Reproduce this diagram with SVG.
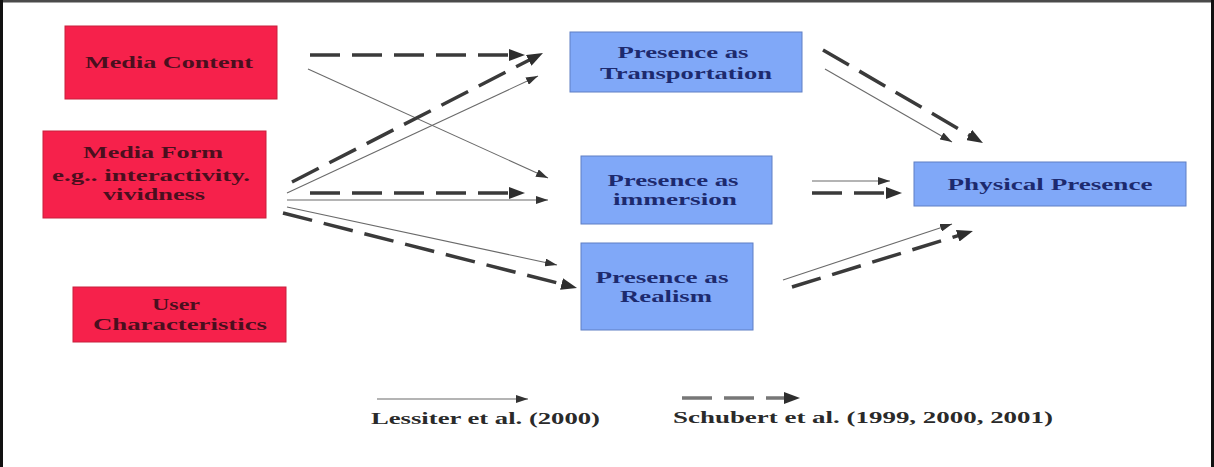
<svg xmlns="http://www.w3.org/2000/svg" width="1214" height="467" viewBox="0 0 1214 467">
<style>
.red{fill:#f6214b;stroke:#c8203c;stroke-width:1}
.blue{fill:#80a8f8;stroke:#5f7fc4;stroke-width:1}
.tr{font-family:"Liberation Serif","Times New Roman",serif;font-weight:bold;font-size:17px;fill:#4a0f1e;text-anchor:middle}
.tb{font-family:"Liberation Serif","Times New Roman",serif;font-weight:bold;font-size:17px;fill:#1d2a6e;text-anchor:middle}
.tl{font-family:"Liberation Serif","Times New Roman",serif;font-weight:bold;font-size:17px;fill:#2a2a2a}
.thin{stroke:#6a6a6a;stroke-width:1.1;fill:none;marker-end:url(#sm)}
.dash{stroke:#3a3a3a;stroke-width:3.5;stroke-dasharray:30 12;fill:none;marker-end:url(#bg)}
.ldash{stroke:#777;stroke-width:3.5;stroke-dasharray:30 12;fill:none;marker-end:url(#bg)}
</style>
<defs>
<marker id="bg" markerUnits="userSpaceOnUse" markerWidth="16" markerHeight="12" refX="4" refY="6" orient="auto">
<path d="M0,0 L16,6 L0,12 z" fill="#2e2e2e"/>
</marker>
<marker id="sm" markerUnits="userSpaceOnUse" markerWidth="12" markerHeight="8" refX="12" refY="4" orient="auto">
<path d="M0,0 L12,4 L0,8 z" fill="#333"/>
</marker>
</defs>
<rect x="0" y="0" width="1214" height="467" fill="#fff"/>
<g id="frame">
<rect x="0" y="0" width="1214" height="2.5" fill="#4a4a4a"/>
<rect x="0" y="0" width="3" height="467" fill="#111"/>
<rect x="1211" y="0" width="3" height="467" fill="#111"/>
</g>
<g id="connectors">
<line class="dash" x1="310" y1="55" x2="513" y2="55"/>
<line class="thin" x1="308" y1="69" x2="548" y2="178"/>
<line class="dash" x1="292" y1="182" x2="532.3" y2="58.5"/>
<line class="thin" x1="287" y1="193" x2="538" y2="76"/>
<line class="dash" x1="310" y1="193" x2="513" y2="193"/>
<line class="thin" x1="287" y1="200" x2="548" y2="200"/>
<line class="thin" x1="287" y1="207" x2="557" y2="265"/>
<line class="dash" x1="283" y1="213" x2="565.4" y2="285"/>
<line class="dash" x1="823" y1="50" x2="972.6" y2="137"/>
<line class="thin" x1="825" y1="69" x2="952" y2="142"/>
<line class="thin" x1="812" y1="181" x2="890" y2="181"/>
<line class="dash" x1="812" y1="193" x2="890" y2="193"/>
<line class="thin" x1="783" y1="280" x2="952" y2="224"/>
<line class="dash" x1="792" y1="287" x2="961.5" y2="234.6"/>
</g>
<g id="media-content">
<rect class="red" x="65" y="26" width="212" height="73"/>
<text class="tr" x="169" y="68" textLength="168" lengthAdjust="spacingAndGlyphs">Media Content</text>
</g>
<g id="media-form">
<rect class="red" x="43" y="131" width="223" height="87"/>
<text class="tr" x="153" y="158" textLength="140" lengthAdjust="spacingAndGlyphs">Media Form</text>
<text class="tr" x="151" y="181" textLength="198" lengthAdjust="spacingAndGlyphs">e.g.. interactivity.</text>
<text class="tr" x="154" y="200" textLength="102" lengthAdjust="spacingAndGlyphs">vividness</text>
</g>
<g id="user-characteristics">
<rect class="red" x="73" y="287" width="213" height="55"/>
<text class="tr" x="176" y="310" textLength="48" lengthAdjust="spacingAndGlyphs">User</text>
<text class="tr" x="180" y="330" textLength="174" lengthAdjust="spacingAndGlyphs">Characteristics</text>
</g>
<g id="transportation">
<rect class="blue" x="570" y="32" width="232" height="60"/>
<text class="tb" x="683" y="58" textLength="131" lengthAdjust="spacingAndGlyphs">Presence as</text>
<text class="tb" x="686" y="79" textLength="172" lengthAdjust="spacingAndGlyphs">Transportation</text>
</g>
<g id="immersion">
<rect class="blue" x="581" y="156" width="191" height="68"/>
<text class="tb" x="673" y="186" textLength="131" lengthAdjust="spacingAndGlyphs">Presence as</text>
<text class="tb" x="675" y="205" textLength="124" lengthAdjust="spacingAndGlyphs">immersion</text>
</g>
<g id="realism">
<rect class="blue" x="581" y="243" width="172" height="87"/>
<text class="tb" x="662" y="283" textLength="133" lengthAdjust="spacingAndGlyphs">Presence as</text>
<text class="tb" x="666" y="302" textLength="92" lengthAdjust="spacingAndGlyphs">Realism</text>
</g>
<g id="physical-presence">
<rect class="blue" x="914" y="162" width="272" height="44"/>
<text class="tb" x="1050" y="190" textLength="205" lengthAdjust="spacingAndGlyphs">Physical Presence</text>
</g>
<g id="legend">
<line class="thin" x1="377" y1="399" x2="528" y2="399"/>
<text class="tl" x="371" y="424" textLength="229" lengthAdjust="spacingAndGlyphs">Lessiter et al. (2000)</text>
<line class="ldash" x1="682" y1="398" x2="788" y2="398"/>
<text class="tl" x="673" y="423" textLength="380" lengthAdjust="spacingAndGlyphs">Schubert et al. (1999, 2000, 2001)</text>
</g>
</svg>
